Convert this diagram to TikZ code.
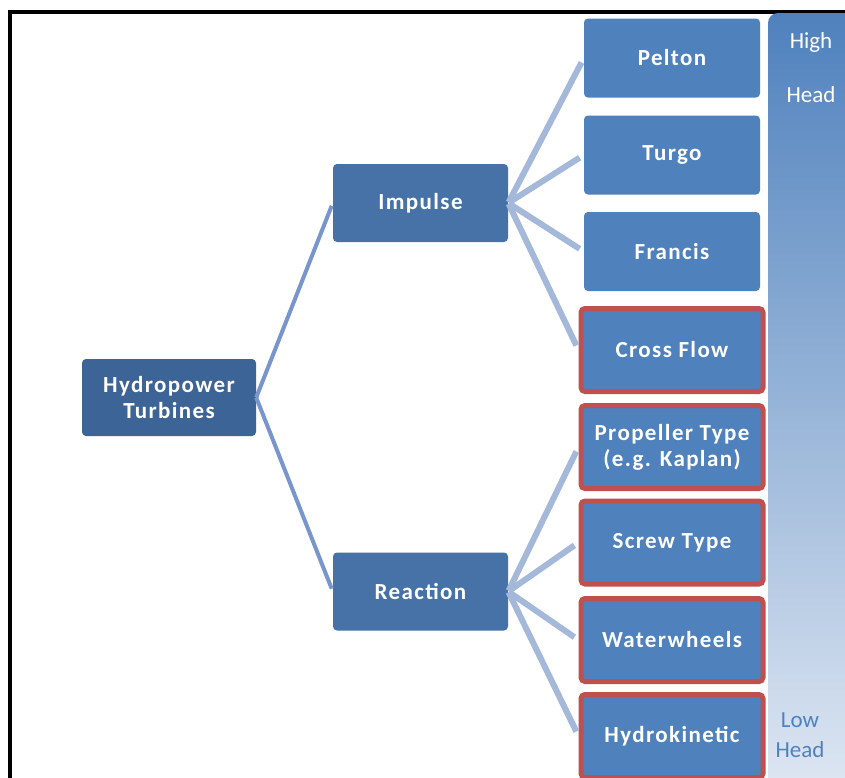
\documentclass[tikz,border=0pt]{standalone}
\usepackage{fontspec}
\setmainfont{Carlito}
\newfontfamily\boxfont[LetterSpace=6]{Carlito}
\definecolor{rootblue}{HTML}{3D6496}
\definecolor{midblue}{HTML}{4672A8}
\definecolor{leafblue}{HTML}{4F81BD}
\definecolor{leafred}{HTML}{C0504D}
\definecolor{rootline}{HTML}{7896CC}
\definecolor{leafline}{HTML}{A4B8DA}
\definecolor{barlow}{HTML}{E0E8F3}
\tikzset{
  turbine/.style={rectangle, rounded corners=4pt, text=white, align=center,
    font=\boxfont\bfseries\fontsize{23}{26}\selectfont, inner sep=0pt},
  rootbox/.style={turbine, fill=rootblue, minimum width=174pt, minimum height=77pt},
  kindbox/.style={turbine, fill=midblue, minimum width=175pt, minimum height=78pt},
  leafbox/.style={turbine, fill=leafblue, minimum width=176pt, minimum height=79pt},
  redbox/.style={leafbox, draw=leafred, line width=5pt, minimum width=182pt, minimum height=83pt},
  headtext/.style={font=\fontsize{23}{26}\selectfont, inner sep=0pt}
}
\begin{document}
\begin{tikzpicture}[x=1pt,y=-1pt]
  \useasboundingbox (0,0) rectangle (845,777);
  \fill[white] (0,0) rectangle (845,777);
  \draw[line width=4pt] (10,800) |- (860,11.5);
  \shade[top color=leafblue, bottom color=barlow, rounded corners=10pt]
    (768,800) -- (768,13) -- (870,13) -- (870,800) -- cycle;
  \draw
    (169,397.5) node[rootbox] (root){Hydropower\\Turbines}
    (420.5,203) node[kindbox] (impulse){Impulse}
    (420.5,591.5) node[kindbox] (reaction){Reaction}
    (672,58) node[leafbox] (pelton){Pelton}
    (672,155) node[leafbox] (turgo){Turgo}
    (672,251.5) node[leafbox] (francis){Francis}
    (672,350) node[redbox] (crossflow){Cross Flow}
    (672,447) node[redbox] (propeller){Propeller Type\\(e.g. Kaplan)}
    (672,542.5) node[redbox] (screw){Screw Type}
    (672,640) node[redbox] (waterwheels){Waterwheels}
    (672,736) node[redbox] (hydrokinetic){Hydrokinetic};
  \draw
    (811,42) node[headtext, text=white] (high){High}
    (811,95) node[headtext, text=white] (headtop){Head}
    (800,720) node[headtext, text=leafblue] (low){Low}
    (800,750) node[headtext, text=leafblue] (headbottom){Head};
  \begin{scope}[rootline, line width=4pt, shorten >=3pt]
    \draw (root.east) to (impulse.west);
    \draw (root.east) to (reaction.west);
  \end{scope}
  \begin{scope}[leafline, line width=6pt, shorten >=5pt, shorten <=1pt]
    \draw (impulse.east) to (pelton.west);
    \draw (impulse.east) to (turgo.west);
    \draw (impulse.east) to (francis.west);
    \draw (impulse.east) to (crossflow.west);
    \draw (reaction.east) to (propeller.west);
    \draw (reaction.east) to (screw.west);
    \draw (reaction.east) to (waterwheels.west);
    \draw (reaction.east) to (hydrokinetic.west);
  \end{scope}
\end{tikzpicture}
\end{document}
